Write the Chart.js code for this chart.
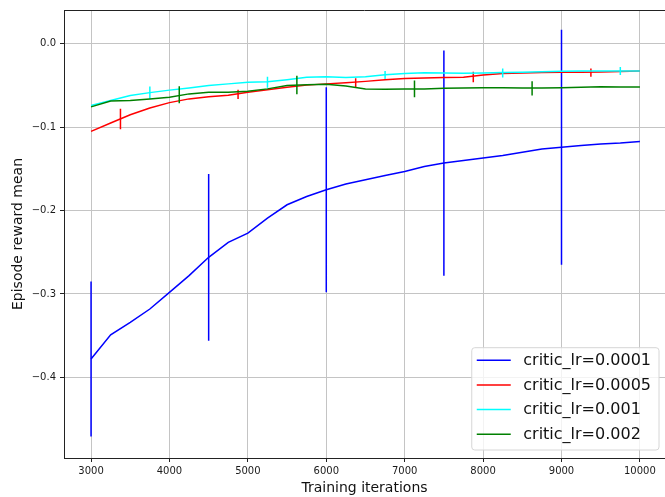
<!DOCTYPE html>
<html>
<head>
<meta charset="utf-8">
<script src="https://cdn.jsdelivr.net/npm/chart.js@4.4.1/dist/chart.umd.min.js"></script>
<style>
html, body { margin: 0; padding: 0; background: #fff; }
#wrap { width: 665px; height: 497px; }
</style>
</head>
<body>
<div id="wrap"><canvas id="myChart" width="665" height="497"></canvas></div>
<script>
// training iterations (x) and mean episode reward per critic learning rate
var iterations = [3000, 3250, 3500, 3750, 4000, 4250, 4500, 4750, 5000, 5250,
    5500, 5750, 6000, 6250, 6500, 6750, 7000, 7250, 7500, 7750,
    8000, 8250, 8500, 8750, 9000, 9250, 9500, 9750, 10000];

var lr0001 = [-0.378, -0.349, -0.334, -0.318, -0.298, -0.278, -0.256, -0.238, -0.227, -0.209,
    -0.193, -0.183, -0.175, -0.168, -0.163, -0.158, -0.153, -0.147, -0.143, -0.140,
    -0.137, -0.134, -0.130, -0.126, -0.124, -0.122, -0.120, -0.119, -0.117];
var lr0005 = [-0.105, -0.095, -0.085, -0.077, -0.0705, -0.066, -0.0635, -0.0615, -0.058, -0.055,
    -0.052, -0.0495, -0.048, -0.0467, -0.045, -0.043, -0.0415, -0.041, -0.0405, -0.040,
    -0.0375, -0.0355, -0.035, -0.0345, -0.0342, -0.034, -0.0338, -0.0333, -0.0326];
var lr001 = [-0.074, -0.068, -0.062, -0.0585, -0.0555, -0.053, -0.050, -0.048, -0.046, -0.0455,
    -0.043, -0.040, -0.0395, -0.0405, -0.0395, -0.0372, -0.0355, -0.0346, -0.035, -0.0354,
    -0.035, -0.0345, -0.034, -0.0334, -0.033, -0.0326, -0.0326, -0.0326, -0.0326];
var lr002 = [-0.0756, -0.0685, -0.068, -0.066, -0.064, -0.060, -0.058, -0.058, -0.0568, -0.054,
    -0.050, -0.049, -0.0485, -0.0505, -0.054, -0.0545, -0.054, -0.054, -0.0533, -0.053,
    -0.0525, -0.0525, -0.053, -0.053, -0.0525, -0.052, -0.0515, -0.0517, -0.0517];

// error bars (mean +/- std) at every few evaluations
var err0001_x = [3000, 4500, 6000, 7500, 9000];
var err0001_mean = [-0.378, -0.256, -0.175, -0.143, -0.124];
var err0001_std = [0.093, 0.100, 0.123, 0.135, 0.141];

var err0005_x = [3375, 4875, 6375, 7875, 9375];
var err0005_mean = [-0.090, -0.0605, -0.047, -0.0398, -0.0345];
var err0005_std = [0.0123, 0.0056, 0.0056, 0.0064, 0.005];

var err001_x = [3750, 5250, 6750, 8250, 9750];
var err001_mean = [-0.0585, -0.046, -0.0374, -0.035, -0.0326];
var err001_std = [0.0073, 0.0066, 0.0048, 0.0055, 0.0048];

var err002_x = [4125, 5625, 7125, 8625];
var err002_mean = [-0.061, -0.0494, -0.054, -0.0535];
var err002_std = [0.0103, 0.011, 0.010, 0.0085];

var seriesLabels = ['critic_lr=0.0001', 'critic_lr=0.0005', 'critic_lr=0.001', 'critic_lr=0.002'];
var seriesColors = ['#0000ff', '#ff0000', '#00ffff', '#008000'];

var xTicks = [3000, 4000, 5000, 6000, 7000, 8000, 9000, 10000];
var yTicks = [-0.4, -0.3, -0.2, -0.1, 0.0];

var FONT = '"DejaVu Sans", "Liberation Sans", sans-serif';

function toPoints(xs, ys) {
    return xs.map(function(x, i) { return {x: x, y: ys[i]}; });
}

// vertical segments, broken apart with null so they don't join up
function errorSegments(xs, means, stds) {
    var pts = [];
    for (var i = 0; i < xs.length; i++) {
        pts.push({x: xs[i], y: means[i] - stds[i]});
        pts.push({x: xs[i], y: means[i] + stds[i]});
        pts.push({x: xs[i], y: null});
    }
    return pts;
}

var lines = [lr0001, lr0005, lr001, lr002];
var errs = [
    [err0001_x, err0001_mean, err0001_std],
    [err0005_x, err0005_mean, err0005_std],
    [err001_x, err001_mean, err001_std],
    [err002_x, err002_mean, err002_std]
];

var datasets = [];
for (var i = 0; i < lines.length; i++) {
    datasets.push({
        label: seriesLabels[i],
        data: toPoints(iterations, lines[i]),
        borderColor: seriesColors[i],
        borderWidth: 1.5,
        pointRadius: 0,
        tension: 0,
        order: 10 - i
    });
    datasets.push({
        label: seriesLabels[i] + ' err',
        data: errorSegments(errs[i][0], errs[i][1], errs[i][2]),
        borderColor: seriesColors[i],
        borderWidth: 1.5,
        pointRadius: 0,
        spanGaps: false,
        order: 10 - i
    });
}

// top spine (left and bottom come from the scale borders)
var frame = {
    id: 'frame',
    afterDraw: function(chart) {
        var ctx = chart.ctx, a = chart.chartArea;
        ctx.save();
        ctx.strokeStyle = '#222';
        ctx.lineWidth = 1;
        ctx.beginPath();
        ctx.moveTo(a.left, a.top + 0.5);
        ctx.lineTo(a.right, a.top + 0.5);
        ctx.stroke();
        ctx.restore();
    }
};

// legend box in the lower right corner of the plot
var legendBox = {
    id: 'legendBox',
    afterDraw: function(chart) {
        var ctx = chart.ctx, a = chart.chartArea;
        ctx.save();
        ctx.font = '16px ' + FONT;
        var textW = 0;
        seriesLabels.forEach(function(t) { textW = Math.max(textW, ctx.measureText(t).width); });
        var rowH = 24.7;
        var w = 5 + 34 + 12.5 + textW + 8;
        var h = rowH * seriesLabels.length + 3.5;
        var right = a.right - 6, bottom = a.bottom - 8;
        var left = right - w, top = bottom - h;
        var r = 3;
        ctx.beginPath();
        ctx.moveTo(left + r, top);
        ctx.arcTo(right, top, right, bottom, r);
        ctx.arcTo(right, bottom, left, bottom, r);
        ctx.arcTo(left, bottom, left, top, r);
        ctx.arcTo(left, top, right, top, r);
        ctx.closePath();
        ctx.fillStyle = 'rgba(255,255,255,0.8)';
        ctx.fill();
        ctx.strokeStyle = '#d6d6d6';
        ctx.lineWidth = 1;
        ctx.stroke();
        ctx.textBaseline = 'middle';
        ctx.textAlign = 'left';
        for (var k = 0; k < seriesLabels.length; k++) {
            var cy = top + 12.5 + k * rowH;
            ctx.strokeStyle = seriesColors[k];
            ctx.lineWidth = 1.5;
            ctx.beginPath();
            ctx.moveTo(left + 5, cy);
            ctx.lineTo(left + 39, cy);
            ctx.stroke();
            ctx.fillStyle = '#111';
            ctx.fillText(seriesLabels[k], left + 51.5, cy + 0.5);
        }
        ctx.restore();
    }
};

var context = document.getElementById('myChart').getContext('2d');
var myChart = new Chart(context, {
    type: 'line',
    data: { datasets: datasets },
    options: {
        responsive: false,
        animation: false,
        devicePixelRatio: 1,
        layout: { padding: { top: 8, right: 0, left: 10, bottom: 0 } },
        plugins: {
            legend: { display: false },
            tooltip: { enabled: false }
        },
        scales: {
            x: {
                type: 'linear',
                min: 2655,
                max: 10320,
                afterBuildTicks: function(scale) {
                    scale.ticks = xTicks.map(function(v) { return {value: v}; });
                },
                afterFit: function(scale) { scale.height = 39; },
                ticks: {
                    font: { family: FONT, size: 10 },
                    color: '#1a1a1a',
                    padding: 3,
                    maxRotation: 0,
                    callback: function(v) { return String(v); }
                },
                grid: { color: '#c4c4c4', lineWidth: 1, tickLength: 4, tickColor: '#222' },
                border: { color: '#222', width: 1 },
                title: {
                    display: true,
                    text: 'Training iterations',
                    font: { family: FONT, size: 14 },
                    color: '#111',
                    padding: { top: 0, bottom: 0 }
                }
            },
            y: {
                min: -0.4967,
                max: 0.0406,
                afterBuildTicks: function(scale) {
                    scale.ticks = yTicks.map(function(v) { return {value: v}; });
                },
                afterFit: function(scale) { scale.width = 54; },
                ticks: {
                    font: { family: FONT, size: 10 },
                    color: '#1a1a1a',
                    padding: 4,
                    callback: function(v) {
                        var s = Math.abs(v).toFixed(1);
                        return v < -1e-9 ? '\u2212' + s : s;
                    }
                },
                grid: { color: '#c4c4c4', lineWidth: 1, tickLength: 4, tickColor: '#222' },
                border: { color: '#222', width: 1 },
                title: {
                    display: true,
                    text: 'Episode reward mean',
                    font: { family: FONT, size: 14 },
                    color: '#111',
                    padding: { top: 0, bottom: 0 }
                }
            }
        }
    },
    plugins: [frame, legendBox]
});
</script>
</body>
</html>
